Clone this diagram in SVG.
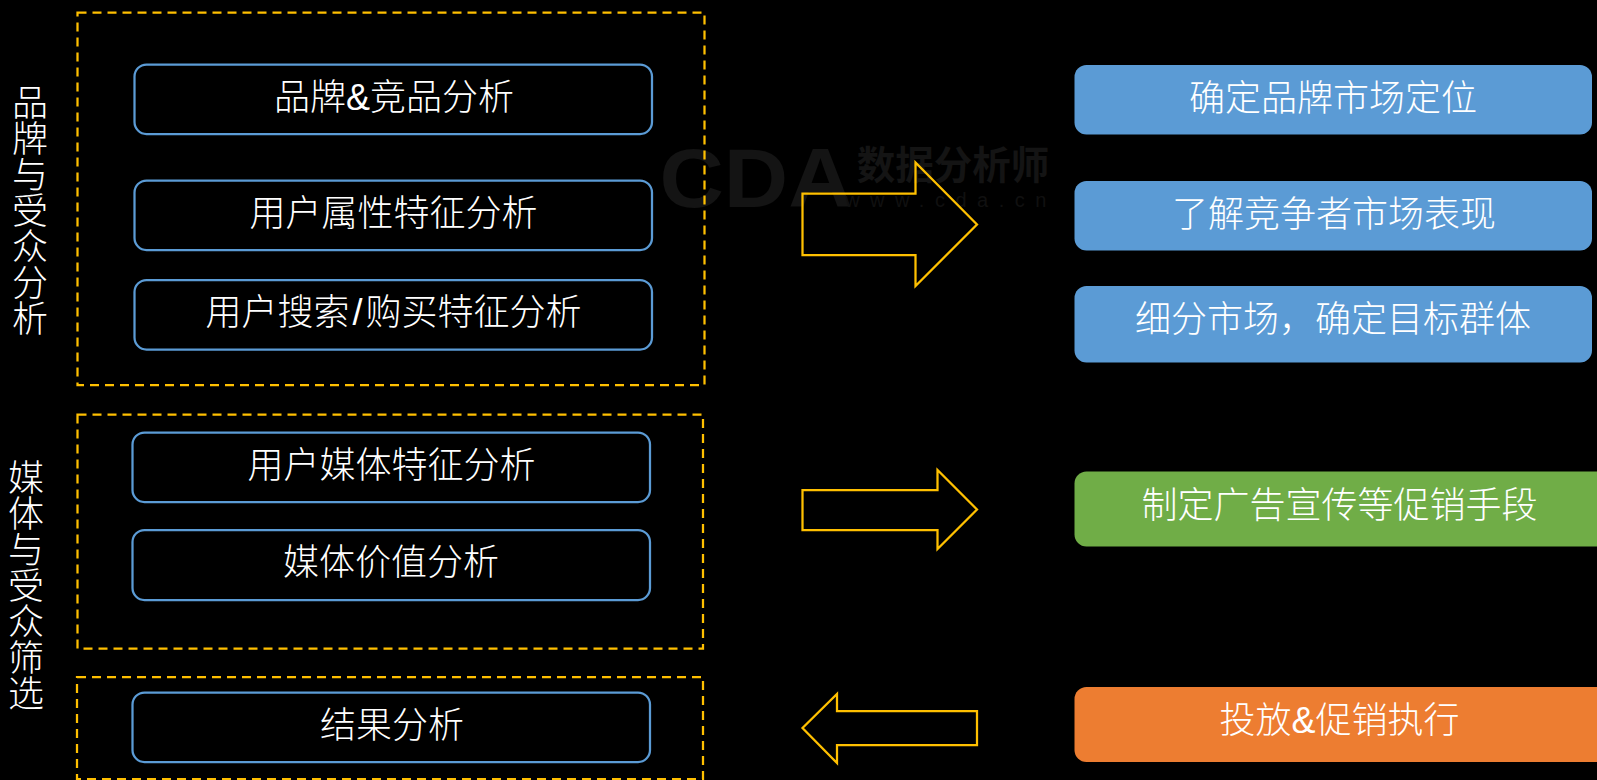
<svg xmlns="http://www.w3.org/2000/svg" width="1597" height="780" viewBox="0 0 1597 780">
<style>
text{font-family:"Noto Sans CJK SC","Liberation Sans",sans-serif;font-weight:300;fill:#fff;font-size:36px;text-anchor:middle}
.lat{font-family:"Liberation Sans","Noto Sans CJK SC",sans-serif}
.vert{writing-mode:vertical-rl;text-anchor:start;font-size:36px}
.dash{fill:none;stroke:#ffc000;stroke-width:2.25;stroke-dasharray:9 6}
.node{fill:#000;stroke:#5b9bd5;stroke-width:2.25}
.arrow{fill:none;stroke:#ffc000;stroke-width:2.25}
.wm{fill:#141414;font-weight:700}
</style>
<rect width="1597" height="780" fill="#000"/>
<g id="watermark">
<text class="wm lat" x="756" y="207" style="font-size:84px" textLength="193" lengthAdjust="spacingAndGlyphs">CDA</text>
<text class="wm" x="953" y="179" style="font-size:38.500px">数据分析师</text>
<text class="wm lat" x="951" y="207" style="font-size:20px;font-weight:400;letter-spacing:10.5px;fill:#101010">www.cda.cn</text>
</g>
<g id="group-brand"><rect class="dash" x="77.5" y="12.5" width="627" height="372.5"/></g>
<g id="group-media"><rect class="dash" x="77.5" y="414.5" width="625.5" height="234"/></g>
<g id="group-result"><rect class="dash" x="77" y="677" width="626" height="102"/></g>
<g id="label-brand"><text class="vert" x="30" y="84">品牌与受众分析</text></g>
<g id="label-media"><text class="vert" x="26" y="459">媒体与受众筛选</text></g>
<g id="n1"><rect class="node" x="134.5" y="64.5" width="517.5" height="69.5" rx="12"/><text x="394" y="110">品牌<tspan class="lat">&amp;</tspan>竞品分析</text></g>
<g id="n2"><rect class="node" x="134.5" y="180.5" width="517.5" height="69.5" rx="12"/><text x="393.500" y="226">用户属性特征分析</text></g>
<g id="n3"><rect class="node" x="134.5" y="280" width="517.5" height="69.5" rx="12"/><text x="393.500" y="325">用户搜索<tspan class="lat" dx="3">/</tspan><tspan dx="3">购买特征分析</tspan></text></g>
<g id="n4"><rect class="node" x="132.5" y="432.5" width="517.5" height="69.5" rx="12"/><text x="391.500" y="478">用户媒体特征分析</text></g>
<g id="n5"><rect class="node" x="132.5" y="530" width="517.5" height="70" rx="12"/><text x="391" y="575">媒体价值分析</text></g>
<g id="n6"><rect class="node" x="132.5" y="692.5" width="517.5" height="69.5" rx="12"/><text x="392" y="738">结果分析</text></g>
<g id="r1"><rect x="1074.5" y="65" width="517.5" height="69.5" rx="12" fill="#5b9bd5"/><text x="1333" y="110.500">确定品牌市场定位</text></g>
<g id="r2"><rect x="1074.5" y="181" width="517.5" height="69.5" rx="12" fill="#5b9bd5"/><text x="1334" y="226.500">了解竞争者市场表现</text></g>
<g id="r3"><rect x="1074.5" y="286" width="517.5" height="76.5" rx="12" fill="#5b9bd5"/><text x="1333" y="331.500">细分市场，确定目标群体</text></g>
<g id="r4"><rect x="1074.5" y="471.5" width="535" height="75" rx="12" fill="#70ad47"/><text x="1339.500" y="517.500">制定广告宣传等促销手段</text></g>
<g id="r5"><rect x="1074.5" y="687" width="535" height="75" rx="12" fill="#ed7d31"/><text x="1339.500" y="733">投放<tspan class="lat">&amp;</tspan>促销执行</text></g>
<g id="connectors">
<path class="arrow" d="M802.500 193.500H915.500V162.500L977 224.500L915.500 286V255H802.500Z"/>
<path class="arrow" d="M802.500 490H937.500V470L977 509.500L937.500 549V530H802.500Z"/>
<path class="arrow" d="M977 711H837V694L802.500 728L837 763V745H977Z"/>
</g>
</svg>
